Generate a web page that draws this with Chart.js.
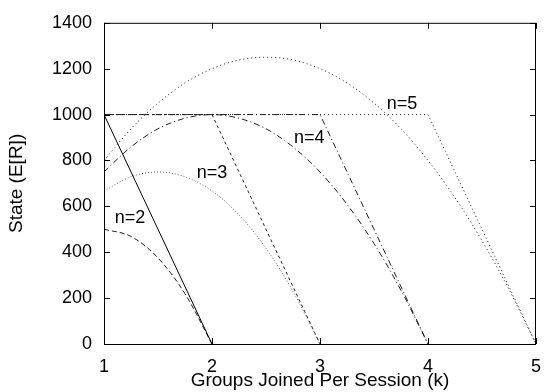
<!DOCTYPE html>
<html>

<head>
    <title>State vs Groups Joined</title>
    <script src="https://cdn.jsdelivr.net/npm/chart.js@4.4.0/dist/chart.umd.min.js"></script>
    <style>
        body {
            margin: 0;
            background: #fff;
        }
    </style>
</head>

<body>
    <canvas id="chart" width="553" height="392"></canvas>
    <script>
        // k values (groups joined per session), sampled every 0.25
        var kSteps = [1, 1.25, 1.5, 1.75, 2, 2.25, 2.5, 2.75, 3, 3.25, 3.5, 3.75, 4, 4.25, 4.5, 4.75, 5];

        // curved series
        var para2 = [500, 469, 375, 219, 0];
        var para3 = [667, 729, 750, 729, 667, 563, 417, 229, 0];
        var para4 = [750, 859, 938, 984, 1000, 984, 938, 859, 750, 609, 438, 234, 0];
        var para5 = [800, 938, 1050, 1138, 1200, 1238, 1250, 1238, 1200, 1138, 1050, 938, 800, 638, 450, 238, 0];

        // capped series (flat at 1000, then straight down)
        var cap2X = [1, 2], cap2Y = [1000, 0];
        var cap3X = [1, 2, 3], cap3Y = [1000, 1000, 0];
        var cap4X = [1, 3, 4], cap4Y = [1000, 1000, 0];
        var cap5X = [1, 4, 5], cap5Y = [1000, 1000, 0];

        var xTicks = [1, 2, 3, 4, 5];
        var yTicks = [0, 200, 400, 600, 800, 1000, 1200, 1400];

        // curve labels, in data coordinates
        var labelText = ["n=2", "n=3", "n=4", "n=5"];
        var labelX = [1.24, 2.0, 2.90, 3.76];
        var labelY = [547, 745, 896, 1047];

        var fontFamily = "'Liberation Sans', Arial, sans-serif";

        function zip(xs, ys) {
            var pts = [];
            for (var i = 0; i < ys.length; i++) {
                pts.push({ x: xs[i], y: ys[i] });
            }
            return pts;
        }

        function series(xs, ys, color, dash, smooth) {
            return {
                data: zip(xs, ys),
                showLine: true,
                borderColor: color,
                borderWidth: 1,
                borderDash: dash,
                pointRadius: 0,
                fill: false,
                cubicInterpolationMode: smooth ? 'monotone' : 'default',
                tension: 0
            };
        }

        // frame, inward ticks and the n= labels
        var framePlugin = {
            id: 'frame',
            afterDraw: function(chart) {
                var ctx = chart.ctx;
                var a = chart.chartArea;
                var xs = chart.scales.x, ys = chart.scales.y;
                ctx.save();
                ctx.strokeStyle = '#000';
                ctx.lineWidth = 1;
                ctx.setLineDash([]);
                ctx.strokeRect(a.left + 0.5, a.top + 0.5, a.right - a.left - 1, a.bottom - a.top);
                ctx.beginPath();
                yTicks.forEach(function(v) {
                    var py = Math.round(ys.getPixelForValue(v)) + 0.5;
                    ctx.moveTo(a.left, py);
                    ctx.lineTo(a.left + 6, py);
                    ctx.moveTo(a.right, py);
                    ctx.lineTo(a.right - 6, py);
                });
                xTicks.forEach(function(v) {
                    var px = Math.round(xs.getPixelForValue(v)) + 0.5;
                    ctx.moveTo(px, a.bottom);
                    ctx.lineTo(px, a.bottom - 6);
                    ctx.moveTo(px, a.top);
                    ctx.lineTo(px, a.top + 6);
                });
                ctx.stroke();

                ctx.fillStyle = '#000';
                ctx.font = '18px ' + fontFamily;
                ctx.textAlign = 'center';
                ctx.textBaseline = 'middle';
                for (var i = 0; i < labelText.length; i++) {
                    ctx.fillText(labelText[i], xs.getPixelForValue(labelX[i]), ys.getPixelForValue(labelY[i]));
                }
                ctx.restore();
            }
        };

        var ctx = document.getElementById('chart').getContext('2d');
        var chart = new Chart(ctx, {
            type: 'scatter',
            data: {
                datasets: [
                    series(cap2X, cap2Y, '#000', [], false),
                    series(kSteps, para2, '#222', [5, 3], true),
                    series(kSteps, para3, '#666', [1, 2], true),
                    series(cap3X, cap3Y, '#222', [3, 3], false),
                    series(kSteps, para4, '#222', [6, 3, 1, 3], true),
                    series(cap4X, cap4Y, '#222', [6, 3, 1, 3], false),
                    series(kSteps, para5, '#222', [1, 3], true),
                    series(cap5X, cap5Y, '#222', [1, 3], false)
                ]
            },
            options: {
                responsive: false,
                animation: false,
                devicePixelRatio: 1,
                layout: {
                    padding: { top: 19, right: 7, left: 5, bottom: 0 }
                },
                plugins: {
                    legend: { display: false },
                    tooltip: { enabled: false }
                },
                scales: {
                    x: {
                        type: 'linear',
                        min: 1,
                        max: 5,
                        afterFit: function(scale) { scale.height = 48; },
                        grid: { display: false, drawTicks: false },
                        border: { display: false },
                        ticks: {
                            stepSize: 1,
                            padding: 12,
                            color: '#000',
                            font: { size: 18, family: fontFamily },
                            callback: function(v) { return String(v); }
                        },
                        title: {
                            display: true,
                            text: 'Groups Joined Per Session (k)',
                            color: '#000',
                            padding: 0,
                            font: { size: 19, family: fontFamily }
                        }
                    },
                    y: {
                        min: 0,
                        max: 1400,
                        afterFit: function(scale) { scale.width = 99; },
                        grid: { display: false, drawTicks: false },
                        border: { display: false },
                        ticks: {
                            stepSize: 200,
                            padding: 12,
                            color: '#000',
                            font: { size: 18, family: fontFamily },
                            callback: function(v) { return String(v); }
                        },
                        title: {
                            display: true,
                            text: 'State (E[R])',
                            color: '#000',
                            padding: 0,
                            font: { size: 19, family: fontFamily }
                        }
                    }
                }
            },
            plugins: [framePlugin]
        });
    </script>
</body>

</html>
